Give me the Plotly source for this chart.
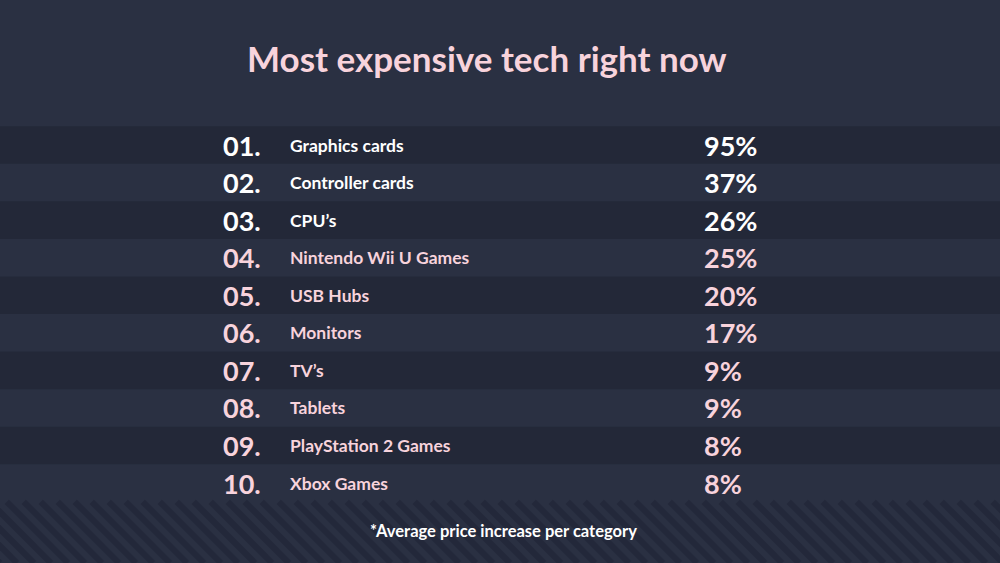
import plotly.graph_objects as go

ranks = ["01.", "02.", "03.", "04.", "05.", "06.", "07.", "08.", "09.", "10."]
categories = ["Graphics cards", "Controller cards", "CPU’s", "Nintendo Wii U Games",
              "USB Hubs", "Monitors", "TV’s", "Tablets", "PlayStation 2 Games", "Xbox Games"]
values = [95, 37, 26, 25, 20, 17, 9, 9, 8, 8]

title = "Most expensive tech right now"
footnote = "*Average price increase per category"

BG = "#2a3042"
BAND = "#232838"
STRIPE = "#23283a"
WHITE = "#ffffff"
PINK = "#f8d3dc"

W, H = 1000, 563
ROW_CENTER0 = 145
ROW_STEP = 37.56

fig = go.Figure()

n = len(categories)
rows = list(range(n))
colors = [WHITE if i < 3 else PINK for i in rows]

# invisible trace to set up axes
fig.add_trace(go.Scatter(x=[0], y=[0], mode="markers", marker=dict(opacity=0), hoverinfo="skip", showlegend=False))

shapes = []
for i in rows:
    if i % 2 == 0:
        shapes.append(dict(type="rect", xref="paper", yref="y", x0=0, x1=1, y0=i - 0.5, y1=i + 0.5,
                           fillcolor=BAND, line=dict(width=0), layer="below"))

# diagonal stripes in the bottom region
stripe_top = (ROW_CENTER0 + (n - 0.5) * ROW_STEP)
stripe_h = H - stripe_top
period = 17
x0 = -stripe_h - period
while x0 < W + period:
    shapes.append(dict(type="line", xref="paper", yref="paper",
                       x0=x0 / W, x1=(x0 + stripe_h) / W,
                       y0=1 - stripe_top / H, y1=0,
                       line=dict(color=STRIPE, width=6), layer="below"))
    x0 += period

annotations = []
for i in rows:
    annotations.append(dict(x=221, y=i, xref="x", yref="y", text=f"<b>{ranks[i]}</b>", showarrow=False,
                            xanchor="left", yanchor="middle",
                            font=dict(family="Lato", size=27, color=colors[i])))
    annotations.append(dict(x=288, y=i, xref="x", yref="y", text=f"<b>{categories[i]}</b>", showarrow=False,
                            xanchor="left", yanchor="middle",
                            font=dict(family="Lato", size=17.5, color=colors[i])))
    annotations.append(dict(x=702, y=i, xref="x", yref="y", text=f"<b>{values[i]}%</b>", showarrow=False,
                            xanchor="left", yanchor="middle",
                            font=dict(family="Lato", size=27, color=colors[i])))

annotations.append(dict(x=0.487, y=1 - 58 / H, xref="paper", yref="paper", text=f"<b>{title}</b>",
                        showarrow=False, xanchor="center", yanchor="middle",
                        font=dict(family="Lato", size=35, color=PINK)))
annotations.append(dict(x=0.503, y=1 - 531 / H, xref="paper", yref="paper", text=f"<b>{footnote}</b>",
                        showarrow=False, xanchor="center", yanchor="middle",
                        font=dict(family="Lato", size=16.5, color=WHITE)))

y_top = -ROW_CENTER0 / ROW_STEP
y_bot = (H - ROW_CENTER0) / ROW_STEP

fig.update_layout(
    width=W, height=H,
    margin=dict(l=0, r=0, t=0, b=0),
    paper_bgcolor=BG, plot_bgcolor=BG,
    xaxis=dict(range=[0, W], visible=False, fixedrange=True),
    yaxis=dict(range=[y_bot, y_top], visible=False, fixedrange=True),
    shapes=shapes,
    annotations=annotations,
    showlegend=False,
)

fig.write_html("out.html", config=dict(displayModeBar=False),
               post_script="document.body.style.margin='0';document.body.style.overflow='hidden';")
